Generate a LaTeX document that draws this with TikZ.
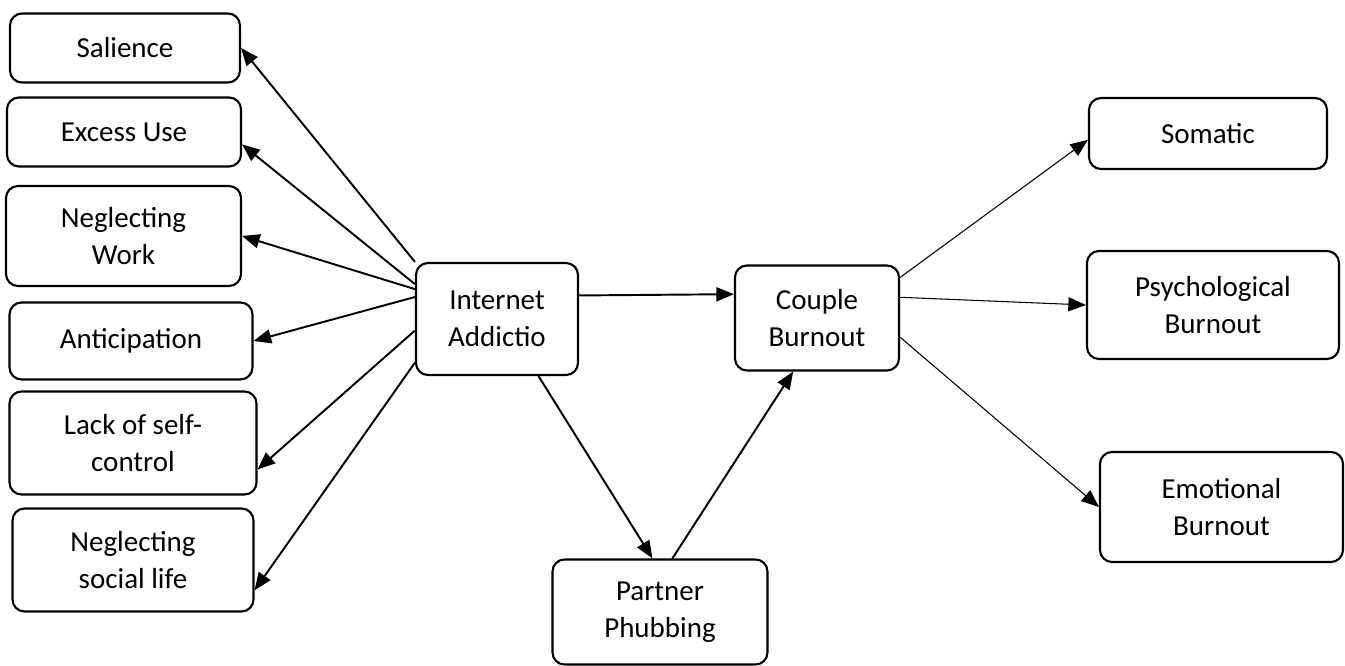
\documentclass[tikz,border=0pt]{standalone}
\usepackage{fontspec}
\setmainfont{Carlito}
\usetikzlibrary{arrows.meta,positioning,calc}

\begin{document}
\begin{tikzpicture}[
    box/.style={rectangle, rounded corners=0.24cm, draw=black, line width=1.2pt, align=center, inner sep=2pt, font=\fontsize{16.5}{21}\selectfont},
    arrow/.style={-{Triangle[length=10pt,width=8pt]}, line width=1.1pt},
    thinarrow/.style={-{Triangle[length=10pt,width=8pt]}, line width=0.6pt}
]
\useasboundingbox (0,0) rectangle (26.9,-13.32);

% Dimensions of internet addiction
\node[box, minimum width=4.6cm, minimum height=1.38cm] (salience) at (2.50,-0.96) {Salience};
\node[box, minimum width=4.68cm, minimum height=1.38cm] (excess) at (2.48,-2.64) {Excess Use};
\node[box, minimum width=4.7cm, minimum height=2.0cm] (work) at (2.47,-4.72) {Neglecting\\Work};
\node[box, minimum width=4.86cm, minimum height=1.54cm] (anticip) at (2.62,-6.82) {Anticipation};
\node[box, minimum width=4.94cm, minimum height=2.06cm] (control) at (2.66,-8.86) {Lack of self-\\control};
\node[box, minimum width=4.82cm, minimum height=2.06cm] (social) at (2.66,-11.2) {Neglecting\\social life};

% Main variables
\node[box, minimum width=3.24cm, minimum height=2.24cm] (internet) at (9.94,-6.38) {Internet\\Addictio};
\node[box, minimum width=3.28cm, minimum height=2.1cm] (couple) at (16.34,-6.36) {Couple\\Burnout};
\node[box, minimum width=4.3cm, minimum height=2.1cm] (phubbing) at (13.2,-12.24) {Partner\\Phubbing};

% Dimensions of couple burnout
\node[box, minimum width=4.76cm, minimum height=1.42cm] (somatic) at (24.16,-2.67) {Somatic};
\node[box, minimum width=5.04cm, minimum height=2.16cm] (psycho) at (24.26,-6.1) {Psychological\\Burnout};
\node[box, minimum width=4.86cm, minimum height=2.2cm] (emotion) at (24.43,-10.14) {Emotional\\Burnout};

% Arrows
\draw[arrow] (internet.north west) -- (salience.east);
\draw[arrow] (internet.157) -- (excess.-6);
\draw[arrow] (internet.160) -- (work.east);
\draw[arrow] (internet.165) -- (anticip.east);
\draw[arrow] (internet.188) -- (control.-12);
\draw[arrow] (internet.208) -- (social.-14);

\draw[arrow] (internet.16) -- (couple.164);
\draw[arrow] (internet.-54) -- (phubbing.98);
\draw[arrow] (phubbing.77) -- (couple.246);

\draw[thinarrow] (couple.26) -- (somatic.183);
\draw[thinarrow] (couple.14) -- (psycho.west);
\draw[thinarrow] (couple.-13) -- (emotion.west);
\end{tikzpicture}
\end{document}
